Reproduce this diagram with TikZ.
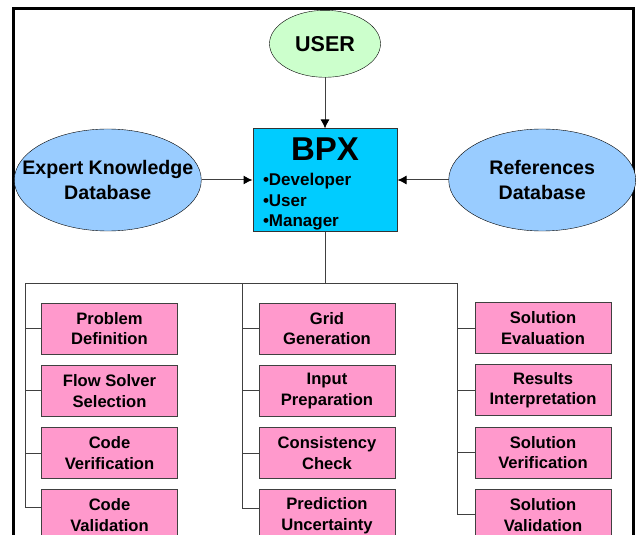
\documentclass[tikz,border=0pt]{standalone}
\usepackage{fontspec}
\setmainfont{Liberation Sans}
\usetikzlibrary{positioning}
\usetikzlibrary{shapes.geometric,arrows.meta}
\definecolor{userfill}{HTML}{CCFFCC}
\definecolor{basefill}{HTML}{99CCFF}
\definecolor{hubfill}{HTML}{00CCFF}
\definecolor{tachefill}{HTML}{FF99CC}
\definecolor{liengris}{HTML}{404040}
\tikzstyle{acteur}=[
  ellipse,
  draw=black,
  fill=userfill,
  inner sep=0pt,
  minimum width=111bp,
  minimum height=67bp,
  font=\bfseries\fontsize{21.5bp}{24bp}\selectfont
]
\tikzstyle{base}=[
  ellipse,
  draw=black,
  fill=basefill,
  inner xsep=-24bp,
  inner ysep=0pt,
  minimum width=187bp,
  minimum height=102bp,
  align=center,
  font=\bfseries\fontsize{19.6bp}{24.3bp}\selectfont
]
\tikzstyle{hub}=[
  draw=black!80,
  fill=hubfill,
  line width=1bp,
  minimum width=144bp,
  minimum height=102bp,
  inner xsep=10bp,
  inner ysep=0pt,
  text width=124bp,
  align=left,
  font=\bfseries\fontsize{17bp}{20.5bp}\selectfont
]
\tikzstyle{tache}=[
  draw=black!75,
  fill=tachefill,
  line width=1bp,
  minimum width=136bp,
  minimum height=51bp,
  inner sep=0pt,
  align=center,
  font=\bfseries\fontsize{16.6bp}{20.7bp}\selectfont
]
\tikzstyle{lien}=[draw=liengris,line width=1bp]
\tikzstyle{cadre}=[draw=black,line width=3bp]

\begin{document}
\begin{tikzpicture}[x=1bp,y=-1bp,node distance=51bp,>={Latex[length=9bp,width=9bp,color=black]}]
    \useasboundingbox (0,0) rectangle (638,535);
    \clip (0,0) rectangle (638,535);
    \draw[cadre] (13.5,545) |- (633,8.5) -- (633,545);
    \node[hub] (bpx) at (325,180) {{\centering\fontsize{33bp}{33bp}\selectfont\rule{0pt}{31bp}BPX\par}\vspace{4.5bp}•Developer\\•User\\•Manager};
    \node[acteur,above=of bpx] (user) {USER};
    \node[base,left=of bpx] (expert) {Expert Knowledge\\Database};
    \node[base,right=of bpx] (refs) {References\\Database};
    \draw[->,lien] (user.south) -- (bpx.north);
    \draw[->,lien] (expert.east) -- (bpx.west);
    \draw[->,lien] (refs.west) -- (bpx.east);
    % three columns of tasks
    \node[tache] (pd) at (109.5,328.5) {Problem\\Definition};
    \node[tache,below=10.3bp of pd] (fss) {Flow Solver\\Selection};
    \node[tache,below=10.3bp of fss] (cver) {Code\\Verification};
    \node[tache,below=10.3bp of cver] (cval) {Code\\Validation};
    \node[tache] (gg) at (327,328.5) {Grid\\Generation};
    \node[tache,below=10.3bp of gg] (ip) {Input\\Preparation};
    \node[tache,below=10.3bp of ip] (cc) {Consistency\\Check};
    \node[tache,below=10.3bp of cc] (pu) {Prediction\\Uncertainty};
    \node[tache] (se) at (543,328) {Solution\\Evaluation};
    \node[tache,below=10.3bp of se] (ri) {Results\\Interpretation};
    \node[tache,below=10.3bp of ri] (sver) {Solution\\Verification};
    \node[tache,below=10.3bp of sver] (sval) {Solution\\Validation};
    \coordinate (fourche) at ([yshift=-52bp]bpx.south);
    \coordinate (colA) at (25,283);
    \coordinate (colB) at (242,283);
    \coordinate (colC) at (457,283);
    \draw[lien] (bpx.south) -- (fourche);
    \draw[lien] (colA) -- (colC);
    \draw[lien] (colA) |- (pd.west);
    \draw[lien] (colA) |- (fss.west);
    \draw[lien] (colA) |- (cver.west);
    \draw[lien] (colA) |- ([yshift=8bp]cval.west);
    \draw[lien] (colB) |- (gg.west);
    \draw[lien] (colB) |- (ip.west);
    \draw[lien] (colB) |- (cc.west);
    \draw[lien] (colB) |- ([yshift=7bp]pu.west);
    \draw[lien] (colC) |- (se.west);
    \draw[lien] (colC) |- (ri.west);
    \draw[lien] (colC) |- (sver.west);
    \draw[lien] (colC) |- (sval.west);
  \end{tikzpicture}
\end{document}
